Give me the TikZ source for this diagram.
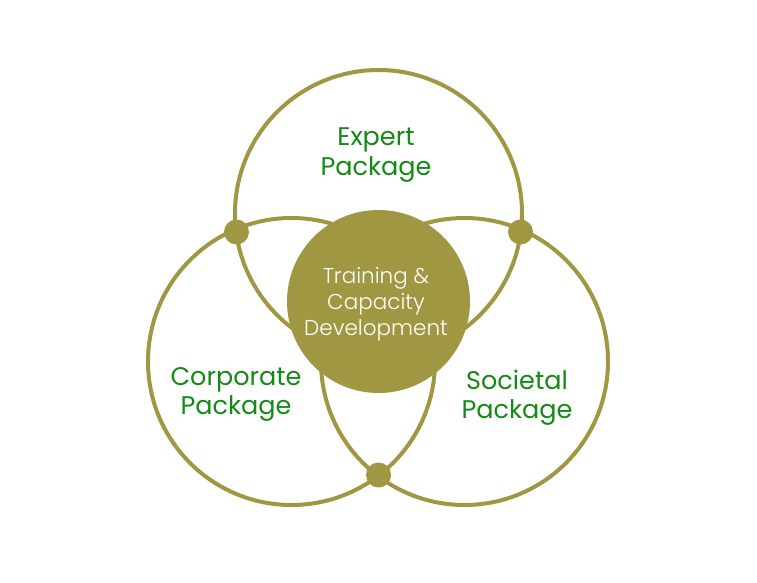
\documentclass[tikz,border=0pt]{standalone}
\usepackage{fontspec}
\setmainfont{Poppins}
\IfFontExistsTF{Poppins Light}{\newfontfamily\lightfont{Poppins Light}}{\newfontfamily\lightfont{Poppins}}
\definecolor{olive}{HTML}{A09743}
\definecolor{pkggreen}{HTML}{148A14}
\begin{document}
\begin{tikzpicture}[x=1pt,y=-1pt,
  ring/.style={draw=olive, line width=4pt, circle, minimum size=287pt, inner sep=0pt},
  hub/.style={fill=olive, circle, minimum size=183pt, inner sep=0pt},
  joint/.style={fill=olive, circle, minimum size=25pt, inner sep=0pt},
  pkg/.style={text=pkggreen, align=center, font=\fontsize{25.5}{29.5}\selectfont},
  hubtext/.style={text=white, align=center, font=\lightfont\fontsize{21.5}{26}\selectfont}]
\useasboundingbox (0,0) rectangle (757,582);
\node[ring] (top) at (378.5,213.5) {};
\node[ring] (left) at (291.5,361.5) {};
\node[ring] (right) at (464.5,361.5) {};
\node[hub] (hub) at (378.5,301.5) {};
\node[joint] (jl) at (236.5,232) {};
\node[joint] (jr) at (520.5,232) {};
\node[joint] (jb) at (378.5,475) {};
\node[pkg] (expert) at (376,155) {Expert\\Package};
\node[pkg] (corp) at (236,394.5) {Corporate\\Package};
\node[pkg] (soc) at (517,397.5) {Societal\\Package};
\node[hubtext] (hubt) at (376,304) {Training \&\\Capacity\\Development};
\end{tikzpicture}
\end{document}
